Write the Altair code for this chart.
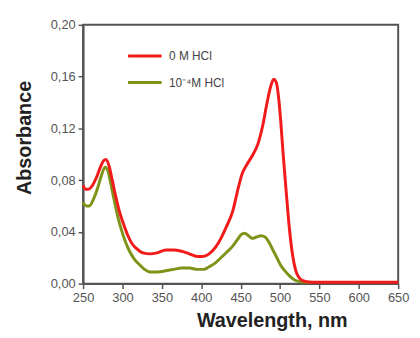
import altair as alt
import pandas as pd

series_names = ["0 M HCl", "10\u207b\u2074M HCl"]
series_colors = ["#f21b1b", "#7d9419"]

x_ticks = [250, 300, 350, 400, 450, 500, 550, 600, 650]
y_ticks = [0.0, 0.04, 0.08, 0.12, 0.16, 0.20]

wl_red = [250, 253, 257, 262, 267, 272, 276, 279, 283, 287, 292, 297, 302, 307, 312,
          318, 325, 335, 345, 355, 365, 375, 385, 395, 402, 410, 418, 425, 432, 440,
          447, 452, 458, 465, 472, 478, 483, 488, 492, 495, 498, 501, 504, 508, 512,
          516, 520, 525, 530, 540, 560, 600, 650]
abs_red = [0.076, 0.073, 0.073, 0.076, 0.082, 0.090, 0.095, 0.096, 0.091, 0.080, 0.066,
           0.054, 0.045, 0.037, 0.031, 0.027, 0.024, 0.023, 0.024, 0.026, 0.026, 0.025,
           0.023, 0.021, 0.021, 0.023, 0.028, 0.035, 0.044, 0.056, 0.074, 0.085, 0.092,
           0.099, 0.108, 0.122, 0.138, 0.152, 0.158, 0.156, 0.145, 0.125, 0.100, 0.070,
           0.042, 0.022, 0.010, 0.004, 0.002, 0.001, 0.001, 0.001, 0.001]

wl_green = [250, 254, 258, 263, 268, 273, 278, 281, 285, 289, 294, 299, 304, 309, 315,
            321, 328, 335, 345, 355, 365, 375, 385, 395, 403, 410, 418, 425, 432, 440,
            446, 451, 455, 460, 465, 470, 476, 481, 486, 491, 496, 501, 506, 512, 518,
            525, 532, 540]
abs_green = [0.063, 0.060, 0.060, 0.065, 0.073, 0.083, 0.090, 0.088, 0.078, 0.066, 0.052,
             0.041, 0.032, 0.025, 0.019, 0.015, 0.011, 0.009, 0.009, 0.010, 0.011, 0.012,
             0.012, 0.011, 0.011, 0.013, 0.016, 0.020, 0.024, 0.029, 0.034, 0.038, 0.039,
             0.037, 0.035, 0.036, 0.037, 0.036, 0.032, 0.026, 0.020, 0.014, 0.010, 0.006,
             0.003, 0.0015, 0.001, 0.001]

df_red = pd.DataFrame({"wl": wl_red, "a": abs_red, "s": series_names[0]})
df_green = pd.DataFrame({"wl": wl_green, "a": abs_green, "s": series_names[1]})

xenc = alt.X("wl:Q", scale=alt.Scale(domain=[250, 650], nice=False),
             axis=alt.Axis(values=x_ticks, title="Wavelength, nm", titleX=191, titleY=27,
                           titleBaseline="top", labelFlush=False))
yenc = alt.Y("a:Q", scale=alt.Scale(domain=[0, 0.2], nice=False),
             axis=alt.Axis(values=y_ticks, title="Absorbance", labelFlush=False,
                           labelExpr="replace(format(datum.value, '.2f'), '.', ',')",
                           titleX=-59, titleY=114, titleAngle=270, titleBaseline="middle",
                           titleAlign="center"))
cenc = alt.Color("s:N", scale=alt.Scale(domain=series_names, range=series_colors),
                 legend=alt.Legend(title=None, orient="none", legendX=44, legendY=13,
                                   symbolType="stroke", symbolSize=1156, symbolStrokeWidth=3,
                                   labelFontSize=12, labelColor="#444", labelFont="Liberation Sans",
                                   rowPadding=2, labelOffset=6))

green = alt.Chart(df_green).mark_line(strokeWidth=3, interpolate="monotone").encode(
    x=xenc, y=yenc, color=cenc)
red = alt.Chart(df_red).mark_line(strokeWidth=3, interpolate="monotone").encode(
    x=xenc, y=yenc, color=cenc)

chart = alt.layer(green, red).properties(
    width=319, height=262,
    autosize=alt.AutoSizeParams(type="none"),
    padding={"left": 76, "top": 15, "right": 14, "bottom": 51},
    background="white",
).configure_view(
    stroke="#555", strokeWidth=2
).configure_axis(
    grid=False, domainColor="#555", domainWidth=2, tickColor="#555", tickWidth=1.5,
    tickSize=5, labelColor="#555", labelFontSize=13, labelFont="Liberation Sans",
    titleFont="Liberation Sans", titleFontSize=20, titleFontWeight="bold", titleColor="#222",
    labelPadding=3
)

chart.save("out.html", embed_options={"renderer": "svg", "actions": False})
